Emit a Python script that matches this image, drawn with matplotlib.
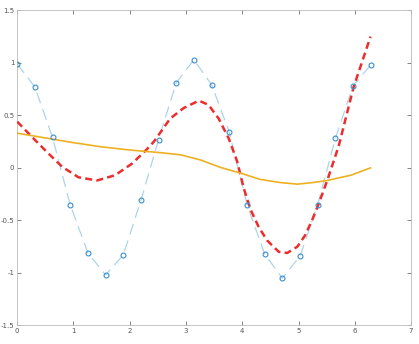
import matplotlib
matplotlib.use('Agg')
import matplotlib.pyplot as plt

# sampled data points (x = 0 : pi/10 : 2pi)
x_data = [0.000, 0.314, 0.628, 0.942, 1.257, 1.571, 1.885, 2.199, 2.513, 2.827,
          3.142, 3.456, 3.770, 4.084, 4.398, 4.712, 5.027, 5.341, 5.655, 5.969, 6.283]
y_data = [0.99, 0.77, 0.29, -0.35, -0.81, -1.02, -0.83, -0.31, 0.27, 0.81,
          1.03, 0.79, 0.34, -0.35, -0.82, -1.05, -0.84, -0.35, 0.28, 0.78, 0.98]

# red dashed fit curve
x_fit1 = [0.00, 0.29, 0.53, 0.80, 1.09, 1.42, 1.74, 2.04, 2.31, 2.43, 2.72, 2.96,
          3.23, 3.40, 3.58, 3.76, 3.91, 4.03, 4.15, 4.29, 4.44, 4.65, 4.80, 4.98,
          5.12, 5.24, 5.36, 5.51, 5.66, 5.72, 5.98, 6.28]
y_fit1 = [0.44, 0.28, 0.15, 0.01, -0.09, -0.12, -0.07, 0.04, 0.18, 0.25, 0.47, 0.57,
          0.64, 0.60, 0.47, 0.28, 0.06, -0.20, -0.40, -0.56, -0.69, -0.80, -0.81, -0.75,
          -0.64, -0.50, -0.34, -0.12, 0.12, 0.22, 0.77, 1.25]

# yellow fit curve
x_fit2 = [0.00, 0.50, 1.00, 1.50, 2.00, 2.54, 2.90, 3.26, 3.61, 3.97, 4.32,
          4.68, 4.98, 5.25, 5.51, 5.93, 6.28]
y_fit2 = [0.33, 0.285, 0.24, 0.20, 0.17, 0.145, 0.125, 0.075, 0.005, -0.05, -0.11,
          -0.14, -0.155, -0.14, -0.12, -0.07, 0.00]

fig = plt.figure(figsize=(4.19, 3.44), dpi=100)
ax = fig.add_axes([0.041, 0.054, 0.94, 0.916])

ax.plot(x_data, y_data, '--', color='#acd5ea', lw=0.9, dashes=(9, 5), zorder=2)
ax.plot(x_data, y_data, 'o', mfc='none', mec='#3a8fd0', ms=3.5, mew=0.8, zorder=4)
ax.plot(x_fit1, y_fit1, '--', color='#ee2c2c', lw=1.8, dashes=(2.8, 1.7), zorder=3)
ax.plot(x_fit2, y_fit2, '-', color='#edb120', lw=1.2, zorder=3)

ax.set_xlim(0, 7)
ax.set_ylim(-1.5, 1.5)
ax.set_xticks(range(0, 8))
ax.set_yticks([-1.5, -1, -0.5, 0, 0.5, 1, 1.5])
ax.set_yticklabels(['-1.5', '-1', '-0.5', '0', '0.5', '1', '1.5'])
ax.tick_params(direction='in', top=True, right=True, length=3, width=0.5,
               labelsize=5, colors='#555555', pad=2)
for s in ax.spines.values():
    s.set_color('#bbbbbb')
    s.set_linewidth(0.6)

plt.savefig('out.png', dpi=100)
